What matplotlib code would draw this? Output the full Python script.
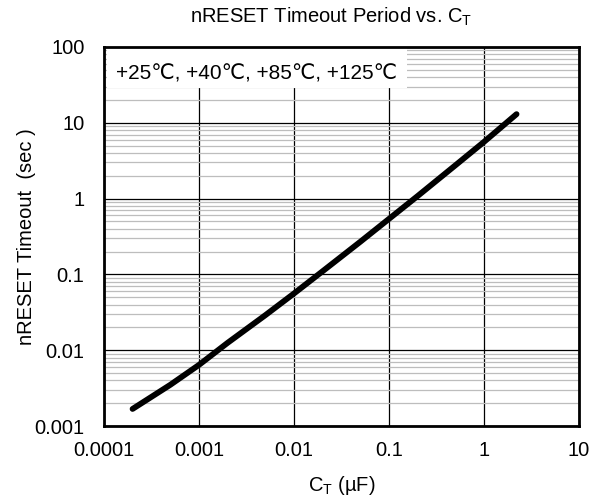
import matplotlib
matplotlib.use("Agg")
import matplotlib.pyplot as plt
from matplotlib.patches import Rectangle
from matplotlib.ticker import LogLocator, FixedLocator, NullFormatter

plt.rcParams['font.family'] = ['Liberation Sans', 'DejaVu Sans']

# C_T in uF vs nRESET timeout in seconds
ct_uf = [0.0002, 0.0005, 0.001, 0.002, 0.005, 0.01, 0.02, 0.05, 0.1, 0.2, 0.5, 1.0, 2.2]
timeout_s = [0.00168, 0.0035, 0.0064, 0.0125, 0.029, 0.056, 0.11, 0.27, 0.54, 1.08, 2.75, 5.6, 13.0]

x_ticks = [0.0001, 0.001, 0.01, 0.1, 1, 10]
x_labels = ["0.0001", "0.001", "0.01", "0.1", "1", "10"]
y_ticks = [0.001, 0.01, 0.1, 1, 10, 100]
y_labels = ["0.001", "0.01", "0.1", "1", "10", "100"]
legend_text = "+25\u2103, +40\u2103, +85\u2103, +125\u2103"

fig = plt.figure(figsize=(6.0, 5.01), dpi=100)
ax = fig.add_axes([0.1733, 0.1497, 0.7917, 0.7565])

ax.set_xscale("log")
ax.set_yscale("log")
ax.set_xlim(0.0001, 10)
ax.set_ylim(0.001, 100)

ax.set_xticks(x_ticks)
ax.set_xticklabels(x_labels)
ax.set_yticks(y_ticks)
ax.set_yticklabels(y_labels)
ax.xaxis.set_minor_locator(FixedLocator([]))
ax.yaxis.set_minor_locator(LogLocator(base=10, subs=range(2, 10)))
ax.yaxis.set_minor_formatter(NullFormatter())
ax.tick_params(which="both", length=0, labelsize=14.5)
ax.tick_params(axis="x", pad=11)
ax.tick_params(axis="y", pad=14)

ax.grid(True, which="minor", axis="y", color="#bdbdbd", lw=0.9)
ax.grid(True, which="major", color="black", lw=0.9)
ax.set_axisbelow(True)

for s in ax.spines.values():
    s.set_linewidth(2.0)
    s.set_color("black")

ax.plot(ct_uf, timeout_s, color="black", lw=4.2, solid_capstyle="round", zorder=3)

# white label box in the top-left corner, covering the grid
ax.add_patch(Rectangle((0.006, 0.892), 0.632, 0.108, transform=ax.transAxes,
                       facecolor="white", edgecolor="none", zorder=2))
ax.text(0.025, 0.913, legend_text, transform=ax.transAxes, fontsize=15,
        va="baseline", ha="left", zorder=4)

fig.text(0.552, 0.966, "nRESET Timeout Period vs. C$_\\mathregular{T}$",
         fontsize=14.5, ha="center", va="center")
fig.text(0.57, 0.030, "C$_\\mathregular{T}$ (\u00b5F)",
         fontsize=14.5, ha="center", va="center")
fig.text(0.045, 0.528, "nRESET Timeout  (sec )", fontsize=14.5,
         ha="center", va="center", rotation=90)

fig.savefig("out.png", dpi=100)
